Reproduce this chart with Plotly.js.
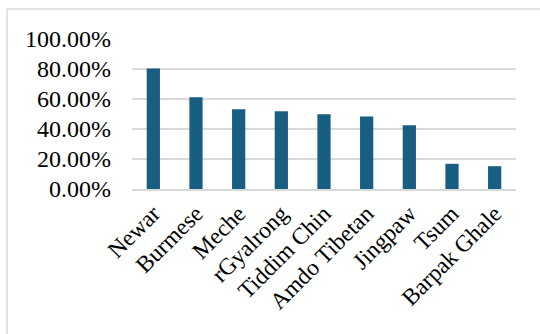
<!DOCTYPE html>
<html><head><meta charset="utf-8">
<script src="https://cdn.plot.ly/plotly-3.0.1.min.js"></script>
<style>html,body{margin:0;padding:0;background:#fff;}#chart{width:540px;height:334px;}</style>
</head><body><div id="chart"></div>
<script>
const categories = ["Newar","Burmese","Meche","rGyalrong","Tiddim Chin","Amdo Tibetan","Jingpaw","Tsum","Barpak Ghale"];
const values = [0.804, 0.611, 0.532, 0.519, 0.499, 0.483, 0.425, 0.168, 0.152];
const yTicks = [0, 0.2, 0.4, 0.6, 0.8, 1.0];

const trace = {
  type: 'bar', x: categories, y: values,
  marker: {color: '#175e82'},
  hoverinfo: 'none'
};
const layout = {
  width: 540, height: 334,
  margin: {l: 132, r: 24, t: 39, b: 145},
  paper_bgcolor: '#fff', plot_bgcolor: '#fff',
  bargap: 0.69,
  showlegend: false,
  font: {family: '"Liberation Serif", "Times New Roman", serif', color: '#000'},
  xaxis: {
    tickangle: -45, tickfont: {size: 23.5, family: '"Liberation Serif", serif', color: '#000'},
    showgrid: false, showline: true, linecolor: '#d9d9d9', linewidth: 1.5,
    ticks: '', automargin: false
  },
  yaxis: {
    range: [0, 1.0], tickvals: yTicks, tickformat: '.2%',
    tickfont: {size: 24, family: '"Liberation Serif", serif', color: '#000'},
    showgrid: true, gridcolor: '#d9d9d9', gridwidth: 1.5,
    zeroline: false, showline: false, ticks: '', ticklabelstandoff: 20, automargin: false
  },
  shapes: [
    {type: 'line', xref: 'paper', yref: 'paper', x0: -0.3255, x1: -0.3255, y0: 1.2, y1: -0.97, line: {color: '#d9d9d9', width: 1.5}},
    {type: 'line', xref: 'paper', yref: 'paper', x0: -0.3255, x1: 1.07, y0: 1.2, y1: 1.2, line: {color: '#d9d9d9', width: 1.5}}
  ]
};
Plotly.newPlot('chart', [trace], layout, {staticPlot: true, displayModeBar: false});
</script></body></html>
